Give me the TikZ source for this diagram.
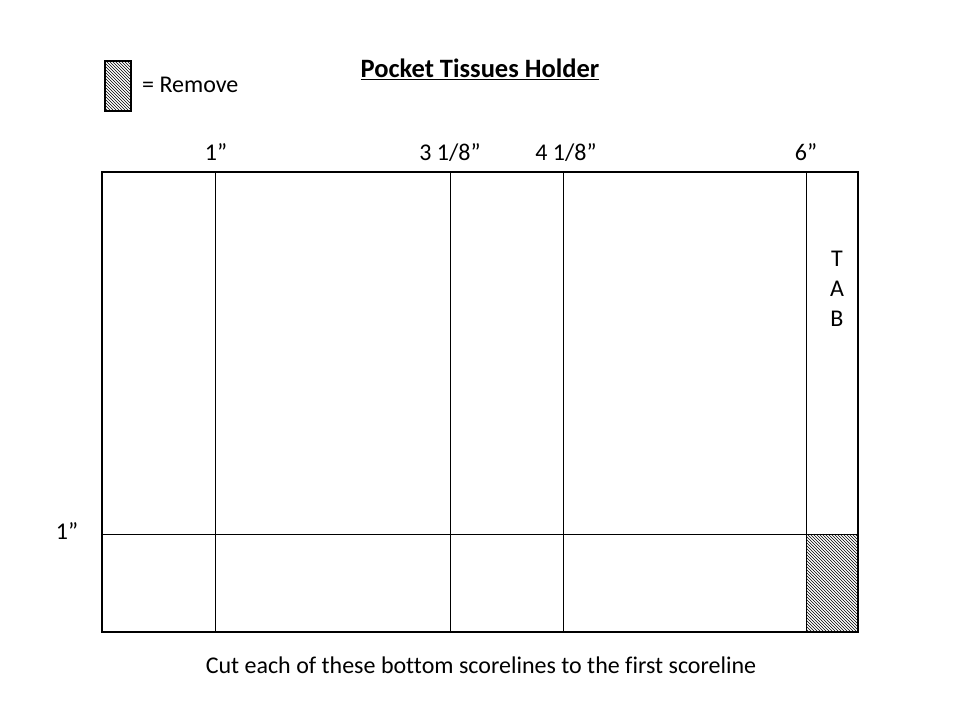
\documentclass[tikz,border=0pt]{standalone}
\usepackage{fontspec}
\setmainfont{Carlito}[Ligatures={NoCommon}]
\usetikzlibrary{patterns}
\begin{document}
\begin{tikzpicture}[x=1pt,y=-1pt,
  lbl/.style={font=\fontsize{24}{28}\selectfont, inner sep=0pt, anchor=base},
  score/.style={line width=0.9pt},
  outer/.style={line width=2.6pt},
  hatch/.style={pattern=north west lines}]
\useasboundingbox (0,0) rectangle (960,720);
% legend
\draw[hatch, line width=1.2pt] (105,61) rectangle (131,111);
\node[lbl, anchor=base west] (legtxt) at (142,92) {= Remove};
\node[lbl, font=\fontsize{26.5}{30}\selectfont\bfseries] (title) at (480,77.5) {\underline{Pocket Tissues Holder}};
% hatched area
\fill[hatch] (806,534) rectangle (858,632);
% scorelines
\draw[score] (215,172) -- (215,632);
\draw[score] (450,172) -- (450,632);
\draw[score] (563,172) -- (563,632);
\draw[score] (806,172) -- (806,632);
\draw[score] (102,534) -- (858,534);
% outer
\draw[outer] (102,172) rectangle (858,632);
% labels
\node[lbl] (l1) at (216,160) {1”};
\node[lbl] (l2) at (450,160) {3 1/8”};
\node[lbl] (l3) at (566,160) {4 1/8”};
\node[lbl] (l4) at (806,160) {6”};
\node[lbl] (l5) at (67,539) {1”};
\node[lbl] (t1) at (837,266) {T};
\node[lbl] (t2) at (837,296) {A};
\node[lbl] (t3) at (837,326) {B};
\node[lbl] (cap) at (481,673) {Cut each of these bottom scorelines to the first scoreline};
\end{tikzpicture}
\end{document}
